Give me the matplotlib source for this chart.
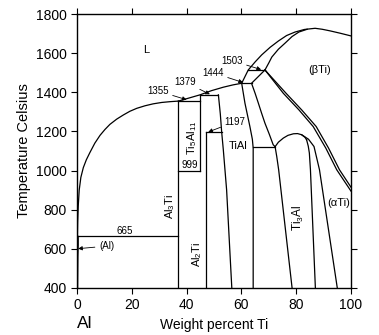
import matplotlib.pyplot as plt

plt.rcParams['font.family'] = ['Liberation Sans', 'DejaVu Sans']
plt.rcParams['mathtext.default'] = 'regular'

# curvas del diagrama Al-Ti (porcentaje en peso de Ti, temperatura en C)
liq_al_x = [0.15, 0.25, 0.45, 0.8, 1.4, 2.3, 3.4, 4.7, 6.5, 8.4, 10.2, 12.0, 14.5,
            16.9, 19.3, 21.8, 24.8, 27.8, 30.9, 33.9, 37.0]
liq_al_t = [665, 740, 820, 900, 965, 1015, 1055, 1092, 1140, 1180, 1210, 1236, 1263,
            1284, 1303, 1318, 1331, 1341, 1348, 1352, 1355]

liq_ti_x = [37.0, 44.9, 49.0, 53.4, 57.0, 60.1, 62.5, 65.0, 67.4, 70.5, 73.5, 76.5,
            79.6, 83.0, 86.9, 89.5, 92.3, 96.0, 100]
liq_ti_t = [1355, 1387, 1408, 1426, 1438, 1446, 1514, 1555, 1591, 1630, 1662, 1690,
            1708, 1721, 1727, 1722, 1714, 1702, 1688]

sol_beta_x = [68.6, 70.0, 71.1, 73.5, 76.0, 78.5, 81.0, 84.0]
sol_beta_t = [1514, 1550, 1580, 1620, 1652, 1685, 1708, 1722]

al_sol_x = [0.6, 0.4, 0.3]
al_sol_t = [665, 560, 400]

tial_left_x = [51.6, 52.3, 52.8, 53.4, 54.6, 56.5]
tial_left_t = [1387, 1290, 1197, 1106, 902, 400]

tial_right_x = [60.1, 61.3, 63.1, 64.0, 64.3, 64.3, 64.3]
tial_right_t = [1446, 1344, 1225, 1160, 1115, 987, 400]

alpha_left_x = [68.6, 63.7, 65.0, 66.2, 67.4, 68.6, 70.2, 71.6, 72.3]
alpha_left_t = [1514, 1446, 1395, 1344, 1292, 1242, 1185, 1132, 1122]

dome_x = [72.3, 73.5, 75.3, 77.0, 79.0, 80.5, 82.0, 83.2, 83.8]
dome_t = [1122, 1145, 1166, 1180, 1188, 1189, 1183, 1170, 1157]

ti3al_left_x = [72.3, 72.9, 73.6, 78.5]
ti3al_left_t = [1122, 1072, 1004, 400]

ti3al_right_x = [83.8, 84.4, 84.8, 85.2, 87.0]
ti3al_right_t = [1157, 1125, 1090, 1004, 400]

alpha_a2_x = [82.0, 84.5, 86.5, 88.5, 95.0]
alpha_a2_t = [1183, 1160, 1123, 1004, 400]

beta1_x = [68.6, 75.3, 81.0, 86.2, 90.8, 94.8, 100]
beta1_t = [1514, 1395, 1310, 1225, 1115, 1004, 895]
beta2_x = [68.6, 76.3, 82.0, 87.3, 91.8, 95.8, 100]
beta2_t = [1514, 1395, 1310, 1225, 1115, 1004, 915]

# compuestos de composicion fija: (x, t inferior, t superior)
verticals = [(37.0, 400, 1355), (44.9, 999, 1387), (47.1, 400, 1197)]
# isotermas: (x inicial, x final, t)
horizontals = [(0, 37.0, 665), (37.0, 44.9, 1355), (37.0, 44.9, 999),
               (44.9, 51.6, 1387), (47.1, 52.8, 1197), (60.1, 63.7, 1446),
               (62.5, 68.6, 1514), (64.3, 72.3, 1122)]

fig = plt.figure(figsize=(3.79, 3.35), dpi=100)
ax = fig.add_axes([0.2032, 0.1403, 0.7229, 0.8179])

lw = 0.9
for xs, ts in [(liq_al_x, liq_al_t), (liq_ti_x, liq_ti_t), (sol_beta_x, sol_beta_t),
               (tial_left_x, tial_left_t), (tial_right_x, tial_right_t),
               (alpha_left_x, alpha_left_t), (dome_x, dome_t),
               (ti3al_left_x, ti3al_left_t), (ti3al_right_x, ti3al_right_t),
               (alpha_a2_x, alpha_a2_t), (beta1_x, beta1_t), (beta2_x, beta2_t)]:
    ax.plot(xs, ts, color='black', lw=lw)
ax.plot(al_sol_x, al_sol_t, color='black', lw=0.6)

for x, t0, t1 in verticals:
    ax.plot([x, x], [t0, t1], color='black', lw=lw)
for x0, x1, t in horizontals:
    ax.plot([x0, x1], [t, t], color='black', lw=lw)

ax.set_xlim(0, 100)
ax.set_ylim(400, 1800)
ax.set_xticks([0, 20, 40, 60, 80, 100])
ax.set_yticks(range(400, 1801, 200))
ax.tick_params(labelsize=10, length=4, width=0.8, top=True, right=True, direction='out')
for s in ax.spines.values():
    s.set_linewidth(1.0)

ax.set_ylabel('Temperature Celsius', fontsize=10.5, labelpad=3)
ax.set_xlabel('Weight percent Ti', fontsize=10, labelpad=4)
fig.text(0.224, 0.033, 'Al', fontsize=12.5, ha='center', va='center')

# etiquetas de fases
small = 7
ax.text(25.4, 1616, 'L', fontsize=8, ha='center', va='center')
ax.text(88.7, 1514, '(βTi)', fontsize=8, ha='center', va='center')
ax.text(95.4, 834, '(αTi)', fontsize=8, ha='center', va='center')
ax.text(58.9, 1123, 'TiAl', fontsize=8, ha='center', va='center')
ax.text(33.9, 817, 'Al$_3$Ti', fontsize=8, ha='center', va='center', rotation=90)
ax.text(41.9, 1166, 'Ti$_5$Al$_{11}$', fontsize=8, ha='center', va='center', rotation=90)
ax.text(43.7, 570, 'Al$_2$Ti', fontsize=8, ha='center', va='center', rotation=90)
ax.text(80.8, 758, 'Ti$_3$Al', fontsize=8.5, ha='center', va='center', rotation=90)
ax.text(17.5, 689, '665', fontsize=small, ha='center', va='center')
ax.text(41.0, 1030, '999', fontsize=small, ha='center', va='center')

arrow = dict(arrowstyle='-|>', color='black', lw=0.6, mutation_scale=6, shrinkA=1, shrinkB=0)
ax.annotate('1355', xy=(40.0, 1362), xytext=(29.5, 1407), fontsize=small,
            ha='center', va='center', arrowprops=arrow)
ax.annotate('1379', xy=(48.5, 1390), xytext=(39.4, 1452), fontsize=small,
            ha='center', va='center', arrowprops=arrow)
ax.annotate('1444', xy=(60.6, 1450), xytext=(49.6, 1500), fontsize=small,
            ha='center', va='center', arrowprops=arrow)
ax.annotate('1503', xy=(67.2, 1516), xytext=(56.5, 1562), fontsize=small,
            ha='center', va='center', arrowprops=arrow)
ax.annotate('1197', xy=(47.9, 1197), xytext=(57.7, 1250), fontsize=small,
            ha='center', va='center', arrowprops=arrow)
ax.annotate('(Al)', xy=(0.4, 601), xytext=(10.8, 614), fontsize=small,
            ha='center', va='center', arrowprops=arrow)

fig.savefig('out.png', dpi=100)
